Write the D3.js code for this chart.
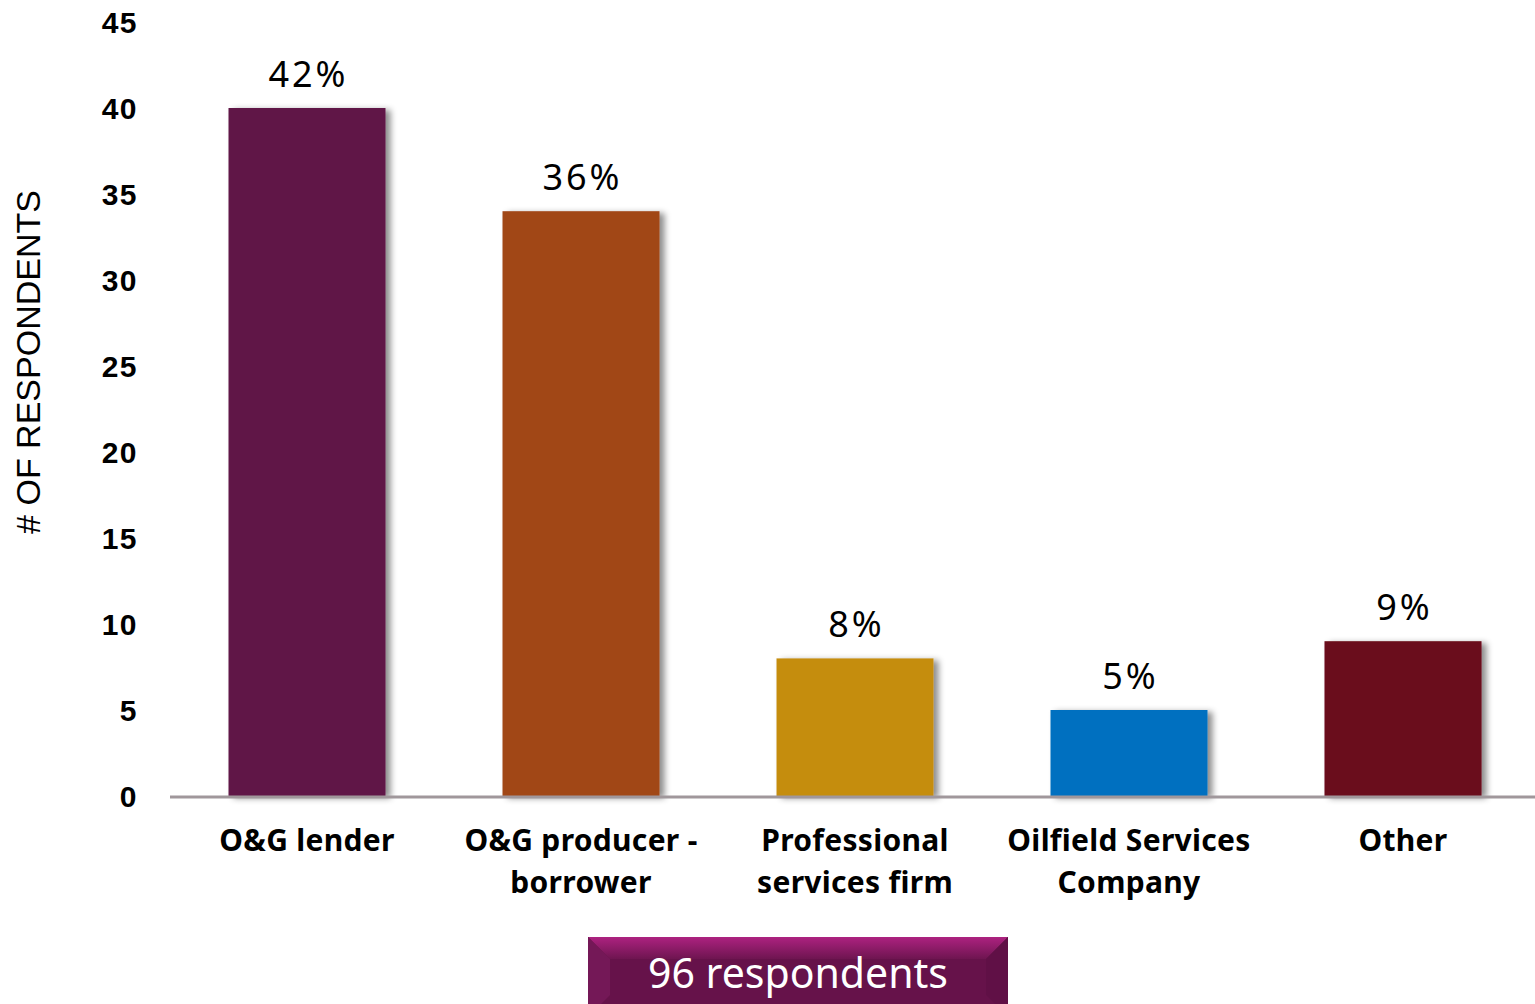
<!DOCTYPE html>
<html>
<head>
<meta charset="utf-8">
<script src="https://cdn.jsdelivr.net/npm/d3@7"></script>
<style>
  html, body { margin: 0; padding: 0; background: #fff; }
  svg { display: block; }
</style>
</head>
<body>
<svg id="chart" width="1535" height="1004"></svg>
<script>
// Respondent counts by organisation type
const categories = [
  ["O&G lender"],
  ["O&G producer -", "borrower"],
  ["Professional", "services firm"],
  ["Oilfield Services", "Company"],
  ["Other"]
];
const counts = [40, 34, 8, 5, 9];
const percentLabels = ["42%", "36%", "8%", "5%", "9%"];
const barColors = ["#611446", "#a14716", "#c58d11", "#0070c0", "#6a0c1a"];
const yTicks = [0, 5, 10, 15, 20, 25, 30, 35, 40, 45];
const totalLabel = "96 respondents";

const svg = d3.select("#chart");

const x = d3.scaleBand()
  .domain(d3.range(counts.length))
  .range([170, 1540])
  .paddingInner(0.427)
  .paddingOuter(0.2135);

const y = d3.scaleLinear().domain([0, 45]).range([796, 22]);

const defs = svg.append("defs");
const shadow = defs.append("filter").attr("id", "barShadow")
  .attr("x", "-10%").attr("y", "-10%").attr("width", "130%").attr("height", "120%");
shadow.append("feDropShadow")
  .attr("dx", 5).attr("dy", 2).attr("stdDeviation", 3)
  .attr("flood-color", "#000").attr("flood-opacity", 0.45);

// Y axis tick labels (no axis line)
const yAxis = d3.axisLeft(y).tickValues(yTicks).tickSize(0).tickPadding(0);
const yg = svg.append("g").attr("transform", "translate(138,0)").call(yAxis);
yg.select(".domain").remove();
yg.selectAll("text")
  .attr("font-family", "'Liberation Sans', Arial, sans-serif")
  .attr("font-weight", "bold")
  .attr("font-size", 30)
  .attr("letter-spacing", 1.5)
  .attr("fill", "#000")
  .attr("dy", "0.36em");

// Y axis title
svg.append("text")
  .attr("transform", "translate(40,362) rotate(-90)")
  .attr("text-anchor", "middle")
  .attr("font-family", "'Liberation Sans', Arial, sans-serif")
  .attr("font-size", 34)
  .attr("fill", "#000")
  .text("# OF RESPONDENTS");

// Bars
svg.append("g").selectAll("rect")
  .data(counts)
  .join("rect")
  .attr("x", (d, i) => x(i))
  .attr("y", d => y(d))
  .attr("width", x.bandwidth())
  .attr("height", d => y(0) - y(d))
  .attr("fill", (d, i) => barColors[i])
  .attr("filter", "url(#barShadow)");

// Baseline
svg.append("line")
  .attr("x1", 170).attr("x2", 1535)
  .attr("y1", y(0) + 1).attr("y2", y(0) + 1)
  .attr("stroke", "#a0979b").attr("stroke-width", 3);

// Percent labels above bars
svg.append("g").selectAll("text")
  .data(counts)
  .join("text")
  .attr("x", (d, i) => x(i) + x.bandwidth() / 2 + 1.5)
  .attr("y", d => y(d) - 21)
  .attr("text-anchor", "middle")
  .attr("font-family", "'Noto Sans', 'Open Sans', sans-serif")
  .attr("font-size", 36)
  .attr("letter-spacing", 3)
  .attr("fill", "#000")
  .text((d, i) => percentLabels[i]);

// Category labels
const catG = svg.append("g");
categories.forEach((lines, i) => {
  const t = catG.append("text")
    .attr("x", x(i) + x.bandwidth() / 2)
    .attr("y", 851)
    .attr("text-anchor", "middle")
    .attr("font-family", "'Noto Sans', 'Open Sans', sans-serif")
    .attr("font-weight", "bold")
    .attr("font-size", 30)
    .attr("letter-spacing", 0.3)
    .attr("fill", "#000");
  lines.forEach((ln, j) => {
    t.append("tspan")
      .attr("x", x(i) + x.bandwidth() / 2)
      .attr("dy", j === 0 ? 0 : 42)
      .text(ln);
  });
});

// Total respondents badge with bevelled edges
const bx = 588, by = 937, bw = 420, bh = 80, bev = 22;
const topGrad = defs.append("linearGradient").attr("id", "badgeTop")
  .attr("x1", 0).attr("y1", 0).attr("x2", 0).attr("y2", 1);
topGrad.append("stop").attr("offset", "0%").attr("stop-color", "#ad2280");
topGrad.append("stop").attr("offset", "100%").attr("stop-color", "#6e1550");
const badge = svg.append("g");
badge.append("rect")
  .attr("x", bx).attr("y", by).attr("width", bw).attr("height", bh)
  .attr("fill", "#66124a");
badge.append("polygon")
  .attr("points", [[bx, by], [bx + bw, by], [bx + bw - bev, by + bev], [bx + bev, by + bev]].join(" "))
  .attr("fill", "url(#badgeTop)");
badge.append("polygon")
  .attr("points", [[bx, by], [bx + bev, by + bev], [bx + bev, by + bh - bev], [bx, by + bh]].join(" "))
  .attr("fill", "#741857");
badge.append("polygon")
  .attr("points", [[bx + bw, by], [bx + bw - bev, by + bev], [bx + bw - bev, by + bh - bev], [bx + bw, by + bh]].join(" "))
  .attr("fill", "#601046");
badge.append("rect")
  .attr("x", bx + bev).attr("y", by + bev).attr("width", bw - 2 * bev).attr("height", bh - 2 * bev)
  .attr("fill", "#66124a");
badge.append("text")
  .attr("x", bx + bw / 2)
  .attr("y", 988)
  .attr("text-anchor", "middle")
  .attr("font-family", "'Noto Sans', 'Open Sans', sans-serif")
  .attr("font-size", 41)
  .attr("fill", "#fff")
  .text(totalLabel);
</script>
</body>
</html>
